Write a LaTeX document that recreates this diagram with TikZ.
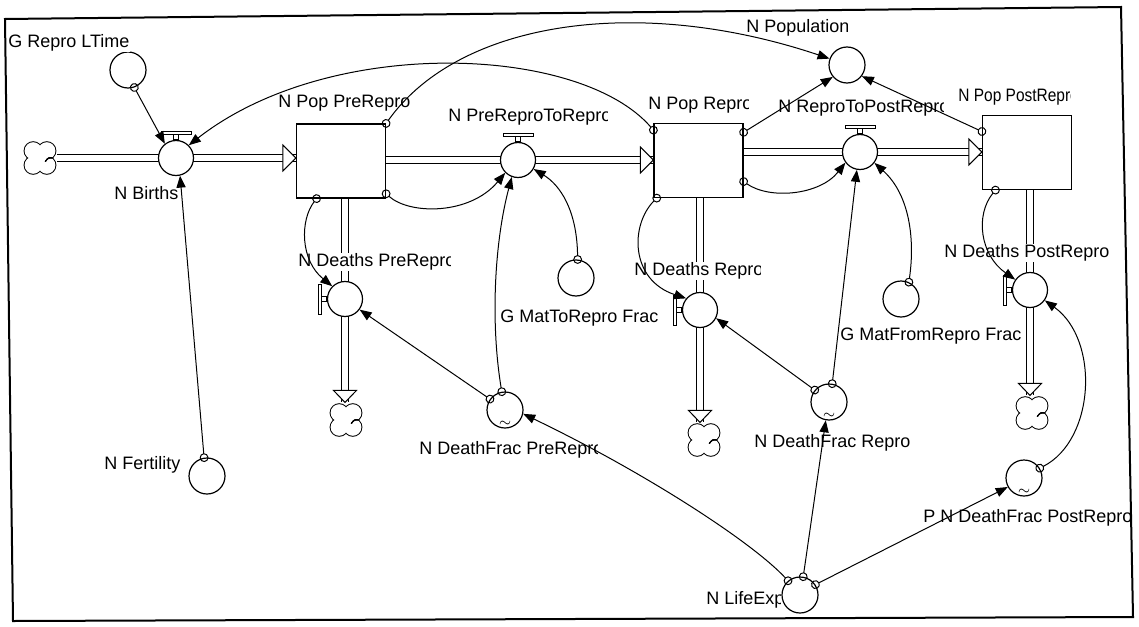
\documentclass[tikz,border=0pt]{standalone}
\usepackage{graphicx}
\usepackage{fontspec}
\setmainfont{Liberation Sans}
\usetikzlibrary{arrows.meta, calc, backgrounds}

% label cut at a fixed right edge
\newcommand{\cliplabel}[5]{%
  \begin{scope}
    \clip (#2-2,#3-14) rectangle (#4,#3+14);
    \node[lbl] (#1) at (#2,#3) {#5};
  \end{scope}}
% valve handles
\newcommand{\valvetop}[1]{%
  \draw[valvepart, shift={(#1.north)}] (-15,-8) rectangle (15,-5) (-2.5,-5) rectangle (2.5,0);}
\newcommand{\valveleft}[1]{%
  \draw[valvepart, shift={(#1.west)}] (-8,-15) rectangle (-5,15) (-5,-2.5) rectangle (0,2.5);}

\begin{document}
\begin{tikzpicture}[x=0.5pt, y=-0.5pt,
  lbl/.style={font=\fontsize{9}{10}\selectfont, anchor=west, inner sep=0.5pt, fill=white},
  stock/.style={draw, fill=white, line width=0.6pt, minimum width=44.5pt, minimum height=37pt, inner sep=0},
  valve/.style={draw, fill=white, circle, line width=0.6pt, minimum size=17.5pt, inner sep=0},
  conv/.style={draw, fill=white, circle, line width=0.6pt, minimum size=18pt, inner sep=0},
  gfconv/.style={conv, font=\scriptsize},
  valvepart/.style={line width=0.5pt, fill=white},
  pipe/.style={double, double distance=2.6pt, line width=0.5pt},
  pipetip/.style={line width=0.5pt, fill=white, line join=miter},
  link/.style={line width=0.5pt, {Circle[open,length=4.4pt]}-{Triangle[length=6pt,width=4.6pt]}, shorten <=-2.2pt},
  cloud/.style={rectangle, minimum width=16.8pt, minimum height=17.2pt, inner sep=0, path picture={
    \begin{scope}[shift={(path picture bounding box.center)}]
      \foreach \sx/\sy in {1/1,-1/1,-1/-1,1/-1} \fill[black] (\sx*3.4pt,\sy*3.6pt) circle[radius=4.8pt];
      \foreach \sx/\sy in {1/1,-1/1,-1/-1,1/-1} \fill[white] (\sx*3.4pt,\sy*3.6pt) circle[radius=4.3pt];
      \fill[white] (0,0) circle[radius=5.2pt];
      \foreach \a in {0,90,180,270}
        \draw[line width=0.5pt, rotate=\a] (6.2pt,0) .. controls (4.2pt,0.2pt) .. (2.6pt,-1.8pt);
    \end{scope}}}]
\useasboundingbox (0,0) rectangle (1139,626);

% stocks
\node[stock] (pre) at (341,161) {};
\node[stock] (repro) at (698.5,160.5) {};
\node[stock] (post) at (1027,152.5) {};
% flows
\node[valve] (births) at (176,158) {};
\node[valve] (ptr) at (518,160) {};
\node[valve] (rtp) at (860,152) {};
\node[valve] (dthpre) at (345,299) {};
\node[valve] (dthr) at (700,310) {};
\node[valve] (dthpost) at (1030,290) {};
\valvetop{births} \valvetop{ptr} \valvetop{rtp}
\valveleft{dthpre} \valveleft{dthr} \valveleft{dthpost}
% clouds
\node[cloud] (c1) at (40,158) {};
\node[cloud] (c2) at (346,420) {};
\node[cloud] (c3) at (704,440) {};
\node[cloud] (c4) at (1032,413) {};
% converters
\node[conv] (ltime) at (128,70) {};
\node[conv] (fert) at (207,476) {};
\node[conv] (pop) at (847,65) {};
\node[conv] (mtr) at (576,278) {};
\node[conv] (mfr) at (901,299) {};
\node[conv] (lexp) at (800,595) {};
\node[gfconv] (dfpre) at (505,410) {\raisebox{-8pt}[0pt][0pt]{$\sim$}};
\node[gfconv] (dfr) at (829,402) {\raisebox{-8pt}[0pt][0pt]{$\sim$}};
\node[gfconv] (dfpost) at (1024,478) {\raisebox{-8pt}[0pt][0pt]{$\sim$}};

\begin{pgfonlayer}{background}
% pipes
\draw[pipe] (c1) -- (births.center) -- (births -| pre.west);
\draw[pipe] (ptr -| pre.east) -- (ptr -| repro.west);
\draw[pipe] (rtp -| repro.east) -- (rtp -| post.west);
\draw[pipe] (dthpre |- pre.south) -- (dthpre |- c2.north);
\draw[pipe] (dthr |- repro.south) -- (dthr |- c3.north);
\draw[pipe] (dthpost |- post.south) -- (dthpost |- c4.north);
\draw[pipetip] (births -| pre.west) -- ++(-13,-13) -- ++(0,26) -- cycle;
\draw[pipetip] (ptr -| repro.west) -- ++(-13,-13) -- ++(0,26) -- cycle;
\draw[pipetip] (rtp -| post.west) -- ++(-13,-13) -- ++(0,26) -- cycle;
\draw[pipetip] (dthpre |- c2.north) -- ++(-11.5,-12) -- ++(23,0) -- cycle;
\draw[pipetip] (dthr |- c3.north) -- ++(-11.5,-12) -- ++(23,0) -- cycle;
\draw[pipetip] (dthpost |- c4.north) -- ++(-11.5,-12) -- ++(23,0) -- cycle;
\end{pgfonlayer}

% labels
\cliplabel{lab_ltime}{7}{43}{130}{G Repro LTime}
\node[lbl] (lab_births) at (113,193) {N Births};
\node[lbl] (lab_pre) at (277,103) {N Pop PreRepro};
\cliplabel{lab_ptr}{447}{117}{607}{N PreReproToRepro}
\cliplabel{lab_repro}{647}{105}{748}{N Pop Repro}
\cliplabel{lab_pop}{745}{28}{847}{N Population}
\cliplabel{lab_rtp}{777}{108}{943}{N ReproToPostRepro}
\cliplabel{lab_post}{957}{97}{1070}{\scalebox{0.86}[1]{N Pop PostRepro}}
\cliplabel{lab_dthpre}{297}{262}{450}{N Deaths PreRepro}
\cliplabel{lab_dthr}{633}{271}{760}{N Deaths Repro}
\cliplabel{lab_dthpost}{943}{253}{1110}{N Deaths PostRepro}
\node[lbl] (lab_mtr) at (499,318) {G MatToRepro Frac};
\cliplabel{lab_mfr}{839}{336}{1022}{G MatFromRepro Frac}
\cliplabel{lab_dfpre}{418}{450}{597}{N DeathFrac PreRepro}
\node[lbl] (lab_dfr) at (753,443) {N DeathFrac Repro};
\cliplabel{lab_dfpost}{922}{518}{1130}{P N DeathFrac PostRepro}
\cliplabel{lab_lexp}{705}{600}{780}{N LifeExp}
\node[lbl] (lab_fert) at (103,465) {N Fertility};

% connectors
\draw[link] (ltime.-70) -- (births.128);
\draw[link] (fert.99) -- (births.-77);
\draw[link] (repro.146) .. controls (580,45) and (330,35) .. (births.45);
\draw[link] (pre.north east) .. controls (460,20) and (640,-5) .. (pop.160);
\draw[link] (repro.32) -- (pop.220);
\draw[link] (post.155) -- (pop.-37);
\draw[link] (pre.-36) .. controls (410,215) and (470,215) .. (ptr.225);
\draw[link] (mtr.85) .. controls (577,210) and (560,185) .. (ptr.-30);
\draw[link] (dfpre.100) .. controls (490,320) and (495,240) .. (ptr.250);
\draw[link] (pre.-123) .. controls (300,220) and (300,260) .. (dthpre.135);
\draw[link] (dfpre.144) -- (dthpre.-36);
\draw[link] (lexp.130) .. controls (750,540) and (640,470) .. (dfpre.-12);
\draw[link] (repro.-25) .. controls (770,200) and (820,195) .. (rtp.216);
\draw[link] (repro.-138) .. controls (630,225) and (630,280) .. (dthr.140);
\draw[link] (dfr.140) -- (dthr.-27);
\draw[link] (dfr.80) -- (rtp.260);
\draw[link] (mfr.65) .. controls (915,240) and (910,195) .. (rtp.-37);
\draw[link] (lexp.80) -- (dfr.260);
\draw[link] (lexp.34) -- (dfpost.209);
\draw[link] (dfpost.32) .. controls (1095,440) and (1100,340) .. (dthpost.-35);
\draw[link] (post.-130) .. controls (975,215) and (980,255) .. (dthpost.145);

% frame
\draw[line width=1pt] (5,19) -- (1121,7) -- (1133,617) -- (13,621) -- cycle;
\end{tikzpicture}
\end{document}
